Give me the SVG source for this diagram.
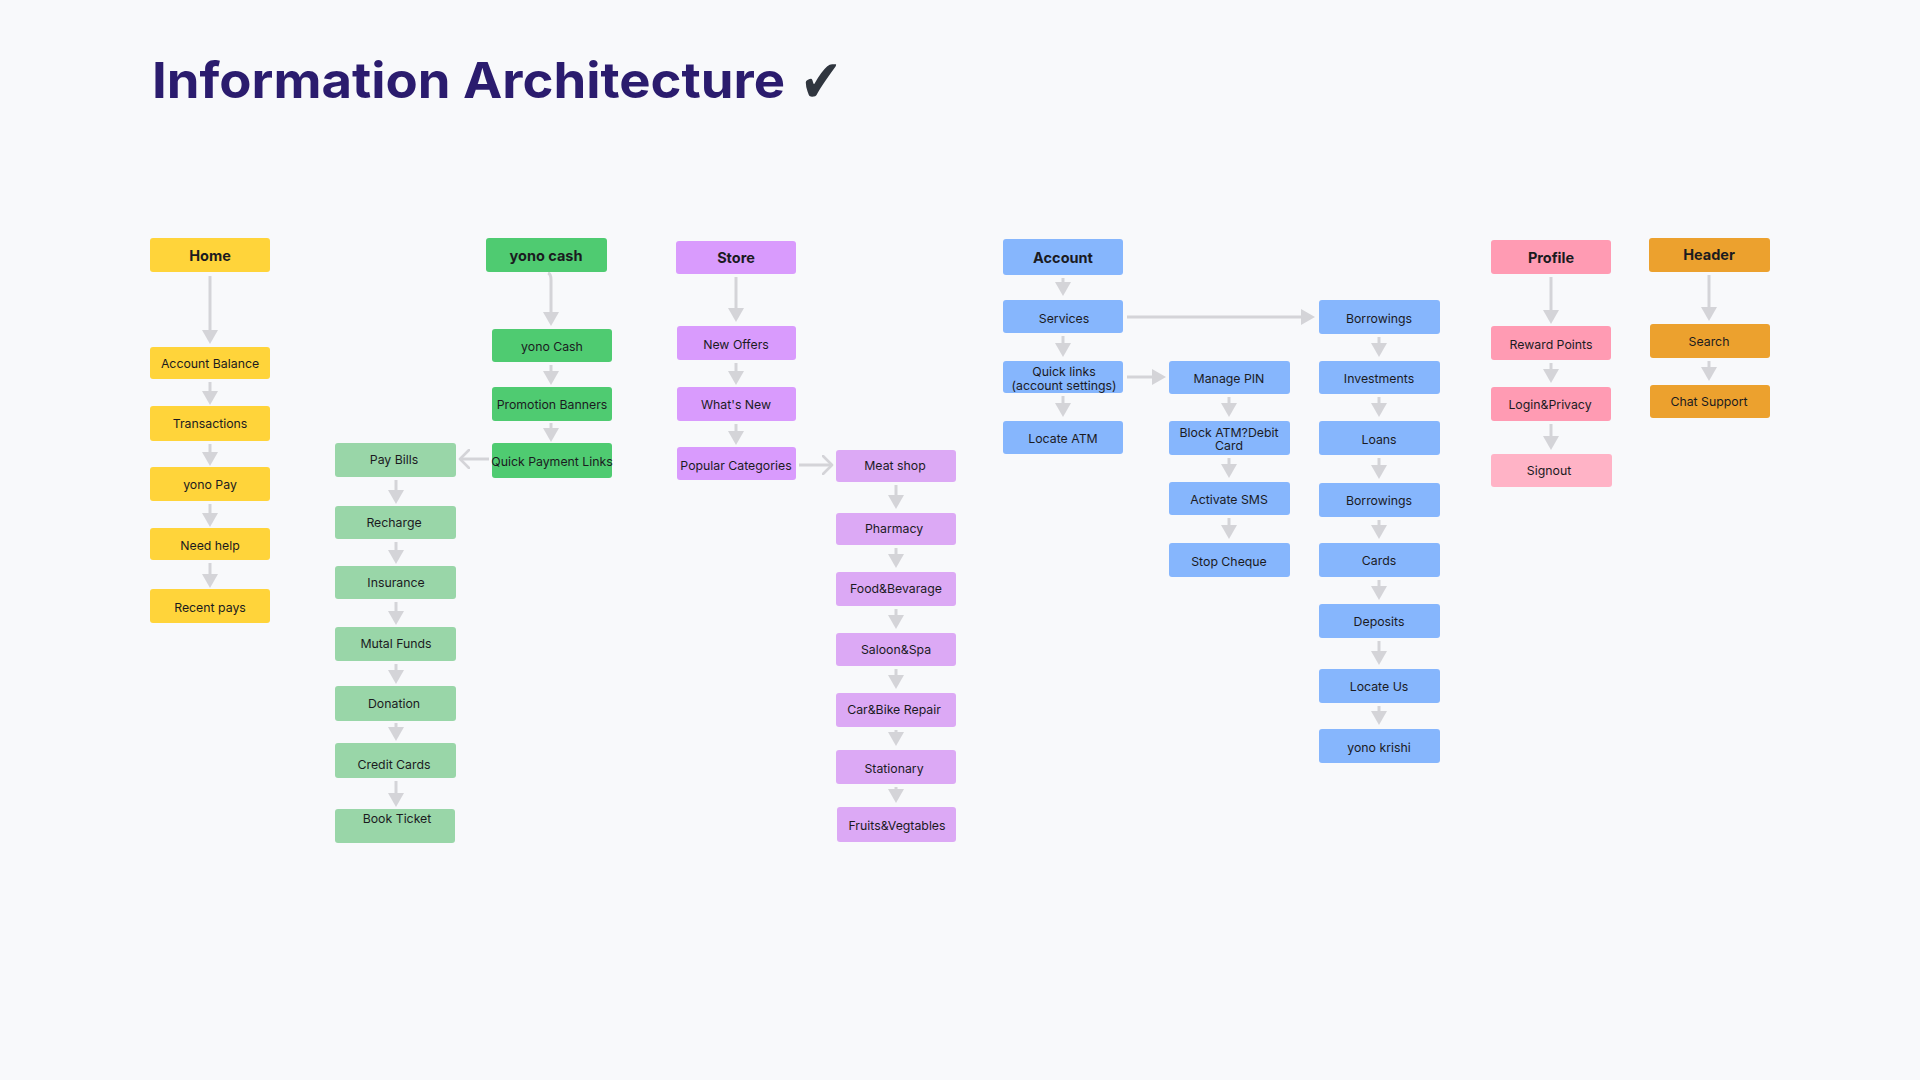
<svg xmlns="http://www.w3.org/2000/svg" width="1920" height="1080" viewBox="0 0 1920 1080">
  <defs>
    <marker id="ah" viewBox="0 0 14 16" refX="6" refY="8" markerWidth="14" markerHeight="16" markerUnits="userSpaceOnUse" orient="auto">
      <path d="M0,0 L14,8 L0,16 Z" fill="#d4d4d8"/>
    </marker>
    <marker id="oh" viewBox="0 0 12 20" refX="10" refY="10" markerWidth="12" markerHeight="20" markerUnits="userSpaceOnUse" orient="auto">
      <path d="M1,1 L10,10 L1,19" fill="none" stroke="#d4d4d8" stroke-width="2.6" stroke-linecap="round" stroke-linejoin="round"/>
    </marker>
  </defs>
  <style>
    .bg { fill: #f8f9fb; }
    .title { font-family: Inter, "Liberation Sans", sans-serif; font-weight: 700; font-size: 50px; fill: #2b1c6e; }
    .check { font-family: "DejaVu Sans", sans-serif; font-weight: 700; font-size: 60px; fill: #30363f; }
    .n rect { rx: 3px; ry: 3px; }
    .n text { font-family: Inter, "Liberation Sans", sans-serif; font-size: 12.3px; fill: #1b1b1f; text-anchor: middle; dominant-baseline: central; }
    .n.h text { font-weight: 700; font-size: 14.5px; }
    .yel rect { fill: #ffd43a; }
    .grn rect { fill: #4fcb71; }
    .lgr rect { fill: #99d6a8; }
    .pur rect { fill: #d99bfd; }
    .lpu rect { fill: #dca9f5; }
    .blu rect { fill: #86b6fd; }
    .pnk rect { fill: #ff9bb3; }
    .lpk rect { fill: #ffb3c6; }
    .org rect { fill: #eca12e; }
    .c line, .c path { stroke: #d4d4d8; stroke-width: 3; fill: none; }
    .c .f { marker-end: url(#ah); }
    .c .o { marker-end: url(#oh); }
  </style>

  <rect class="bg" x="0" y="0" width="1920" height="1080"/>

  <g id="title">
    <text class="title" x="152" y="98" textLength="633" lengthAdjust="spacingAndGlyphs">Information Architecture</text>
    <text class="check" x="800" y="102" textLength="42" lengthAdjust="spacingAndGlyphs">✔</text>
  </g>

  <g id="connectors" class="c">
    <!-- Home column -->
    <line class="f" x1="210" y1="276" x2="210" y2="336"/>
    <line class="f" x1="210" y1="382" x2="210" y2="397"/>
    <line class="f" x1="210" y1="444" x2="210" y2="458"/>
    <line class="f" x1="210" y1="504" x2="210" y2="519"/>
    <line class="f" x1="210" y1="563" x2="210" y2="580"/>
    <!-- yono cash column -->
    <path class="f" d="M548,273 Q551,274 551,280 L551,318"/>
    <line class="f" x1="551" y1="365" x2="551" y2="377"/>
    <line class="f" x1="551" y1="423" x2="551" y2="434"/>
    <line class="o" x1="489" y1="459" x2="460" y2="459"/>
    <!-- Pay bills column -->
    <line class="f" x1="396" y1="480" x2="396" y2="496"/>
    <line class="f" x1="396" y1="542" x2="396" y2="556"/>
    <line class="f" x1="396" y1="602" x2="396" y2="617"/>
    <line class="f" x1="396" y1="664" x2="396" y2="676"/>
    <line class="f" x1="396" y1="723" x2="396" y2="733"/>
    <line class="f" x1="396" y1="781" x2="396" y2="799"/>
    <!-- Store column -->
    <line class="f" x1="736" y1="277" x2="736" y2="314"/>
    <line class="f" x1="736" y1="363" x2="736" y2="377"/>
    <line class="f" x1="736" y1="424" x2="736" y2="437"/>
    <line class="o" x1="799" y1="465" x2="832" y2="465"/>
    <!-- Store child column -->
    <line class="f" x1="896" y1="485" x2="896" y2="501"/>
    <line class="f" x1="896" y1="548" x2="896" y2="560"/>
    <line class="f" x1="896" y1="609" x2="896" y2="621"/>
    <line class="f" x1="896" y1="669" x2="896" y2="681"/>
    <line class="f" x1="896" y1="730" x2="896" y2="738"/>
    <line class="f" x1="896" y1="787" x2="896" y2="795"/>
    <!-- Account column -->
    <line class="f" x1="1063" y1="278" x2="1063" y2="288"/>
    <line class="f" x1="1063" y1="336" x2="1063" y2="349"/>
    <line class="f" x1="1063" y1="396" x2="1063" y2="409"/>
    <line class="f" x1="1127" y1="317" x2="1307" y2="317"/>
    <line class="f" x1="1127" y1="377" x2="1158" y2="377"/>
    <!-- Manage column -->
    <line class="f" x1="1229" y1="397" x2="1229" y2="409"/>
    <line class="f" x1="1229" y1="458" x2="1229" y2="470"/>
    <line class="f" x1="1229" y1="518" x2="1229" y2="531"/>
    <!-- Borrowings column -->
    <line class="f" x1="1379" y1="337" x2="1379" y2="349"/>
    <line class="f" x1="1379" y1="397" x2="1379" y2="409"/>
    <line class="f" x1="1379" y1="458" x2="1379" y2="471"/>
    <line class="f" x1="1379" y1="520" x2="1379" y2="531"/>
    <line class="f" x1="1379" y1="580" x2="1379" y2="592"/>
    <line class="f" x1="1379" y1="641" x2="1379" y2="657"/>
    <line class="f" x1="1379" y1="706" x2="1379" y2="717"/>
    <!-- Profile column -->
    <line class="f" x1="1551" y1="277" x2="1551" y2="316"/>
    <line class="f" x1="1551" y1="363" x2="1551" y2="375"/>
    <line class="f" x1="1551" y1="424" x2="1551" y2="442"/>
    <!-- Header column -->
    <line class="f" x1="1709" y1="275" x2="1709" y2="313"/>
    <line class="f" x1="1709" y1="361" x2="1709" y2="373"/>
  </g>

  <!-- Home -->
  <g id="home" class="n h yel"><rect x="150" y="238" width="120" height="34"/><text x="210" y="255">Home</text></g>
  <g id="account-balance" class="n yel"><rect x="150" y="347" width="120" height="32"/><text x="210" y="363">Account Balance</text></g>
  <g id="transactions" class="n yel"><rect x="150" y="406" width="120" height="35"/><text x="210" y="423">Transactions</text></g>
  <g id="yono-pay" class="n yel"><rect x="150" y="467" width="120" height="34"/><text x="210" y="484">yono Pay</text></g>
  <g id="need-help" class="n yel"><rect x="150" y="528" width="120" height="32"/><text x="210" y="545">Need help</text></g>
  <g id="recent-pays" class="n yel"><rect x="150" y="589" width="120" height="34"/><text x="210" y="607">Recent pays</text></g>

  <!-- yono cash -->
  <g id="yono-cash-header" class="n h grn"><rect x="486" y="238" width="121" height="34"/><text x="546" y="255">yono cash</text></g>
  <g id="yono-cash" class="n grn"><rect x="492" y="329" width="120" height="33"/><text x="552" y="346">yono Cash</text></g>
  <g id="promotion-banners" class="n grn"><rect x="492" y="387" width="120" height="34"/><text x="552" y="404">Promotion Banners</text></g>
  <g id="quick-payment-links" class="n grn"><rect x="492" y="443" width="120" height="35"/><text x="552" y="461">Quick Payment Links</text></g>

  <g id="pay-bills" class="n lgr"><rect x="335" y="443" width="121" height="34"/><text x="394" y="459">Pay Bills</text></g>
  <g id="recharge" class="n lgr"><rect x="335" y="506" width="121" height="33"/><text x="394" y="522">Recharge</text></g>
  <g id="insurance" class="n lgr"><rect x="335" y="566" width="121" height="33"/><text x="396" y="582">Insurance</text></g>
  <g id="mutal-funds" class="n lgr"><rect x="335" y="627" width="121" height="34"/><text x="396" y="643">Mutal Funds</text></g>
  <g id="donation" class="n lgr"><rect x="335" y="686" width="121" height="35"/><text x="394" y="703">Donation</text></g>
  <g id="credit-cards" class="n lgr"><rect x="335" y="743" width="121" height="35"/><text x="394" y="764">Credit Cards</text></g>
  <g id="book-ticket" class="n lgr"><rect x="335" y="809" width="120" height="34"/><text x="397" y="818">Book Ticket</text></g>

  <!-- Store -->
  <g id="store" class="n h pur"><rect x="676" y="241" width="120" height="33"/><text x="736" y="257">Store</text></g>
  <g id="new-offers" class="n pur"><rect x="677" y="326" width="119" height="34"/><text x="736" y="344">New Offers</text></g>
  <g id="whats-new" class="n pur"><rect x="677" y="387" width="119" height="34"/><text x="736" y="404">What's New</text></g>
  <g id="popular-categories" class="n pur"><rect x="677" y="447" width="119" height="33"/><text x="736" y="465">Popular Categories</text></g>

  <g id="meat-shop" class="n lpu"><rect x="836" y="450" width="120" height="32"/><text x="895" y="465">Meat shop</text></g>
  <g id="pharmacy" class="n lpu"><rect x="836" y="513" width="120" height="32"/><text x="894" y="528">Pharmacy</text></g>
  <g id="food-bevarage" class="n lpu"><rect x="836" y="572" width="120" height="34"/><text x="896" y="588">Food&amp;Bevarage</text></g>
  <g id="saloon-spa" class="n lpu"><rect x="836" y="633" width="120" height="33"/><text x="896" y="649">Saloon&amp;Spa</text></g>
  <g id="car-bike-repair" class="n lpu"><rect x="836" y="693" width="120" height="34"/><text x="894" y="709">Car&amp;Bike Repair</text></g>
  <g id="stationary" class="n lpu"><rect x="836" y="750" width="120" height="34"/><text x="894" y="768">Stationary</text></g>
  <g id="fruits-vegtables" class="n lpu"><rect x="837" y="807" width="119" height="35"/><text x="897" y="825">Fruits&amp;Vegtables</text></g>

  <!-- Account -->
  <g id="account" class="n h blu"><rect x="1003" y="239" width="120" height="36"/><text x="1063" y="257">Account</text></g>
  <g id="services" class="n blu"><rect x="1003" y="300" width="120" height="33"/><text x="1064" y="318">Services</text></g>
  <g id="quick-links" class="n blu"><rect x="1003" y="361" width="120" height="32"/><text x="1064" y="371">Quick links</text><text x="1064" y="385">(account settings)</text></g>
  <g id="locate-atm" class="n blu"><rect x="1003" y="421" width="120" height="33"/><text x="1063" y="438">Locate ATM</text></g>

  <g id="manage-pin" class="n blu"><rect x="1169" y="361" width="121" height="33"/><text x="1229" y="378">Manage PIN</text></g>
  <g id="block-atm" class="n blu"><rect x="1169" y="421" width="121" height="34"/><text x="1229" y="432">Block ATM?Debit</text><text x="1229" y="445">Card</text></g>
  <g id="activate-sms" class="n blu"><rect x="1169" y="482" width="121" height="33"/><text x="1229" y="499">Activate SMS</text></g>
  <g id="stop-cheque" class="n blu"><rect x="1169" y="543" width="121" height="34"/><text x="1229" y="561">Stop Cheque</text></g>

  <g id="borrowings-1" class="n blu"><rect x="1319" y="300" width="121" height="34"/><text x="1379" y="318">Borrowings</text></g>
  <g id="investments" class="n blu"><rect x="1319" y="361" width="121" height="33"/><text x="1379" y="378">Investments</text></g>
  <g id="loans" class="n blu"><rect x="1319" y="421" width="121" height="34"/><text x="1379" y="439">Loans</text></g>
  <g id="borrowings-2" class="n blu"><rect x="1319" y="483" width="121" height="34"/><text x="1379" y="500">Borrowings</text></g>
  <g id="cards" class="n blu"><rect x="1319" y="543" width="121" height="34"/><text x="1379" y="560">Cards</text></g>
  <g id="deposits" class="n blu"><rect x="1319" y="604" width="121" height="34"/><text x="1379" y="621">Deposits</text></g>
  <g id="locate-us" class="n blu"><rect x="1319" y="669" width="121" height="34"/><text x="1379" y="686">Locate Us</text></g>
  <g id="yono-krishi" class="n blu"><rect x="1319" y="729" width="121" height="34"/><text x="1379" y="747">yono krishi</text></g>

  <!-- Profile -->
  <g id="profile" class="n h pnk"><rect x="1491" y="240" width="120" height="34"/><text x="1551" y="257">Profile</text></g>
  <g id="reward-points" class="n pnk"><rect x="1491" y="326" width="120" height="34"/><text x="1551" y="344">Reward Points</text></g>
  <g id="login-privacy" class="n pnk"><rect x="1491" y="387" width="120" height="34"/><text x="1550" y="404">Login&amp;Privacy</text></g>
  <g id="signout" class="n lpk"><rect x="1491" y="454" width="121" height="33"/><text x="1549" y="470">Signout</text></g>

  <!-- Header -->
  <g id="header" class="n h org"><rect x="1649" y="238" width="121" height="34"/><text x="1709" y="254">Header</text></g>
  <g id="search" class="n org"><rect x="1650" y="324" width="120" height="34"/><text x="1709" y="341">Search</text></g>
  <g id="chat-support" class="n org"><rect x="1650" y="385" width="120" height="33"/><text x="1709" y="401">Chat Support</text></g>
</svg>
